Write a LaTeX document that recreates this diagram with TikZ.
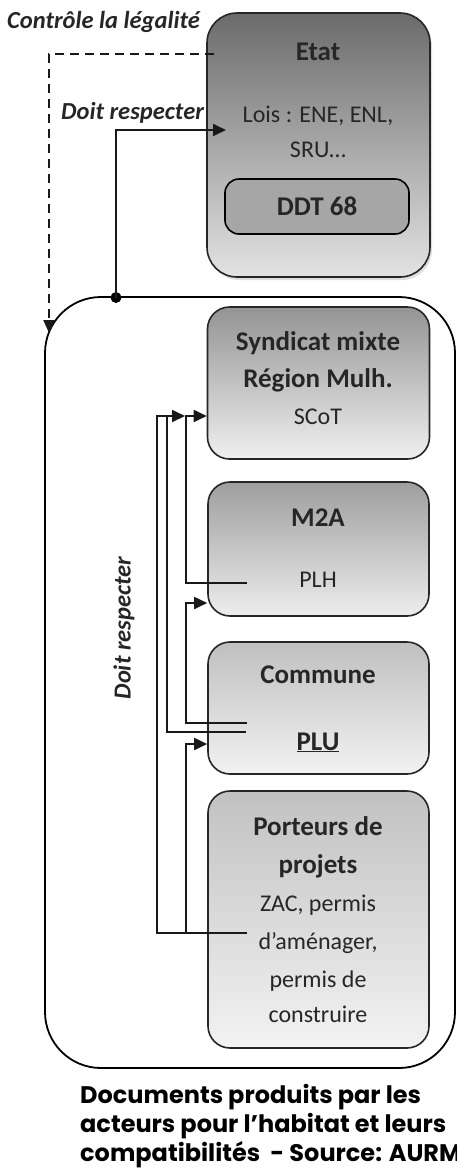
\documentclass[tikz,border=0pt]{standalone}
\usepackage{fontspec}
\setmainfont{Carlito}
\newfontfamily\capfont{Poppins}
\usetikzlibrary{arrows.meta,shadows}
\begin{document}
\begin{tikzpicture}[x=1pt,y=-1pt,
  box/.style={draw=black!85, line width=1.6pt, rounded corners=22pt, inner sep=0pt},
  txt/.style={inner sep=0pt, anchor=base, font=\fontsize{24}{28}\selectfont, text=black!85},
  btxt/.style={inner sep=0pt, anchor=base, font=\fontsize{27}{30}\selectfont\bfseries, text=black!85},
  itxt/.style={inner sep=0pt, anchor=base, font=\fontsize{24.5}{28}\selectfont\bfseries\itshape, text=black!85},
  conn/.style={line width=1.8pt, black!90},
  arr/.style={conn, -{Triangle[length=13pt,width=12pt]}},
]
\useasboundingbox (0,0) rectangle (457,1171);
% Etat
\node[box, rounded corners=30pt, minimum width=223, minimum height=264,
  top color=black!58, bottom color=black!11,
  drop shadow={opacity=0.25, shadow xshift=2pt, shadow yshift=-3pt}] (etat) at (318.5,145) {};
\node[btxt] (etatT) at (318,60) {Etat};
\node[txt] (lois) at (318,122) {Lois : ENE, ENL,};
\node[txt] (sru) at (318,157) {SRU…};
\node[box, rounded corners=14pt, fill=black!35, draw=black, minimum width=184, minimum height=55] (ddt) at (317,206.5) {};
\node[btxt] (ddtT) at (317,215) {DDT 68};
% labels
\node[itxt, anchor=base west] (ctrl) at (7,28) {Contrôle la légalité};
\node[itxt, anchor=base west] (doit) at (61,119) {Doit respecter};
% outer
\node[draw=black, line width=1.8pt, rounded corners=56pt, minimum width=410, minimum height=771, inner sep=0pt] (outer) at (250,682.5) {};
% inner boxes
\node[box, minimum width=222, minimum height=152, top color=black!42, bottom color=black!6] (scot) at (318.5,383) {};
\node[btxt] at (318,350) {Syndicat mixte};
\node[btxt] at (318,387) {Région Mulh.};
\node[txt] (scotT) at (318,424) {SCoT};
\node[box, minimum width=221, minimum height=134, top color=black!38, bottom color=black!7] (m2a) at (318.5,549) {};
\node[btxt] at (318,526) {M2A};
\node[txt] (plh) at (318,587) {PLH};
\node[box, minimum width=221, minimum height=132, top color=black!25, bottom color=black!5] (comm) at (318.5,708) {};
\node[btxt] at (318,683) {Commune};
\node[btxt] (plu) at (318,750) {\underline{PLU}};
\node[box, minimum width=221, minimum height=257, top color=black!24, bottom color=black!5] (port) at (318.5,919.5) {};
\node[btxt] at (318,835) {Porteurs de};
\node[btxt] at (318,873) {projets};
\node[txt] at (318,911) {ZAC, permis};
\node[txt] (amen) at (318,949) {d’aménager,};
\node[txt] at (318,987) {permis de};
\node[txt] at (318,1022) {construire};
\node[itxt, rotate=90, anchor=center] (doitv) at (124,628) {Doit respecter};
% caption
\node[inner sep=0pt, anchor=north west, align=left, font=\capfont\fontsize{24}{29}\selectfont\bfseries] (cap) at (80,1084)
  {Documents produits par les\\acteurs pour l’habitat et leurs\\compatibilités~ - Source: AURM};
% connectors
\coordinate (dashA) at (214,54);
\draw[conn, dash pattern=on 9pt off 6pt, -{Triangle[length=13pt,width=11pt]}] (dashA) -| (49,333);
\coordinate (dot) at (116,297.5);
\fill (dot) circle (5.5pt);
\draw[arr] (dot) |- (226,130);
% PLH -> SCoT
\coordinate (plhS) at (247,583);
\draw[arr] (plhS) -| (186,416) -- (scot.west |- 0,416);
% Commune -> M2A
\coordinate (commS1) at (247,723);
\draw[arr] (commS1) -| (186,603) -- (m2a.west |- 0,603);
% Commune -> SCoT
\coordinate (commS2) at (246,732);
\draw[conn] (commS2) -| (167,416);
% Porteurs -> SCoT
\coordinate (portS) at (247,933);
\draw[arr] (portS) -| (157,416) -- (185,416);
% Porteurs -> PLU
\draw[arr] (186,933) |- (comm.west |- 0,744);
\end{tikzpicture}
\end{document}
